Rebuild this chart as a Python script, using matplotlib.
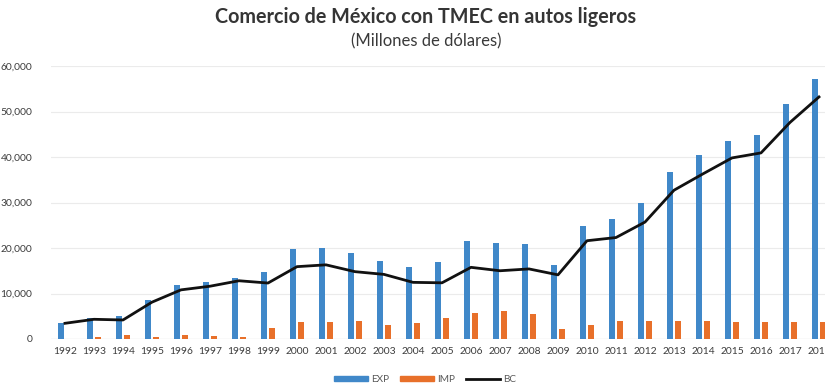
import matplotlib
matplotlib.use("Agg")
import matplotlib.pyplot as plt
from matplotlib.patches import Rectangle
from matplotlib.lines import Line2D
from matplotlib.ticker import FuncFormatter, MultipleLocator

plt.rcParams['font.family'] = ['Lato', 'DejaVu Sans']

years = list(range(1992, 2019))
exp_vals = [3580, 4540, 5130, 8570, 11870, 12460, 13340, 14800, 19700, 20070,
            18830, 17220, 15900, 17000, 21600, 21170, 20880, 16260, 24840, 26300,
            29960, 36770, 40440, 43520, 44840, 51570, 57070]
imp_vals = [100, 370, 900, 350, 900, 660, 510, 2490, 3660, 3660,
            3960, 3080, 3440, 4690, 5790, 6150, 5420, 2130, 3080, 3880,
            3880, 4030, 3880, 3660, 3810, 3810, 3810]
bc_vals = [3450, 4330, 4180, 8100, 10800, 11600, 12800, 12300, 15900, 16300,
           14800, 14200, 12450, 12350, 15750, 15000, 15400, 14100, 21600, 22300,
           25700, 32700, 36300, 39800, 40900, 47600, 53200]
series_names = ['EXP', 'IMP', 'BC']

blue = '#4088C9'
orange = '#E8702A'
text_gray = '#3C3C3C'

fig = plt.figure(figsize=(8.25, 3.87), dpi=100)
ax = fig.add_axes([50.5 / 825, 48 / 387, 783 / 825, 273 / 387])

x = list(range(len(years)))
w = 0.21
ax.bar([i - 0.13 for i in x], exp_vals, width=w, color=blue, zorder=2)
ax.bar([i + 0.13 for i in x], imp_vals, width=w, color=orange, zorder=2)
ax.plot(x, bc_vals, color='#111111', lw=2.0, zorder=3, solid_joinstyle='round')

ax.set_xlim(-0.5, len(years) - 0.5)
ax.set_ylim(0, 60000)
ax.yaxis.set_major_locator(MultipleLocator(10000))
ax.yaxis.set_major_formatter(FuncFormatter(lambda v, p: f"{int(v):,}"))
ax.set_xticks(x)
ax.set_xticklabels([str(y) for y in years])

ax.grid(axis='y', color='#EBEBEB', lw=0.8, zorder=0)
ax.axhline(0, color='#D9D9D9', lw=0.9, zorder=1)
for s in ax.spines.values():
    s.set_visible(False)
ax.tick_params(axis='both', length=0, labelsize=7.4, colors=text_gray)
ax.tick_params(axis='y', pad=13)
ax.tick_params(axis='x', pad=6)

fig.text(426 / 825, 1 - 17 / 387, 'Comercio de México con TMEC en autos ligeros',
         ha='center', va='center', fontsize=14.2, fontweight='bold', color='#353535')
fig.text(426 / 825, 1 - 41 / 387, '(Millones de dólares)',
         ha='center', va='center', fontsize=12, color='#3A3A3A')

handles = [Rectangle((0, 0), 1, 1, color=blue),
           Rectangle((0, 0), 1, 1, color=orange),
           Line2D([0], [0], color='#111111', lw=2.0)]
leg = fig.legend(handles, series_names, loc='center', bbox_to_anchor=(425 / 825, 1 - 380 / 387),
                 ncol=3, frameon=False, fontsize=7.2, handlelength=3.4, handleheight=0.4,
                 columnspacing=1.1, handletextpad=0.3, labelcolor='#595959')

fig.savefig('out.png', dpi=100)
